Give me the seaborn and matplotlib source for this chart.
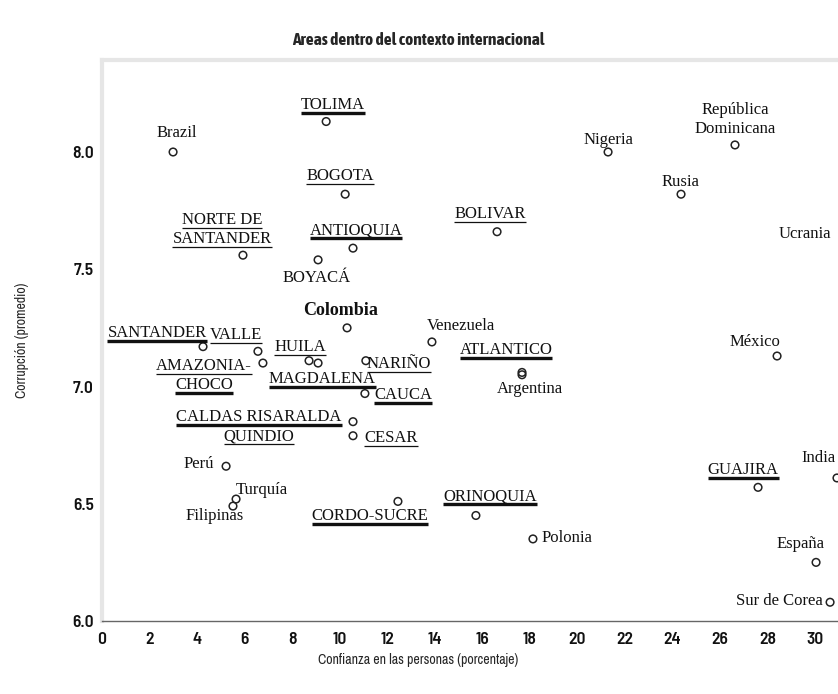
import numpy as np
import pandas as pd
import matplotlib
matplotlib.use('Agg')
import matplotlib.pyplot as plt
from matplotlib.lines import Line2D
import seaborn as sns

# ===== DATOS =====
nombres = [
    'Brazil', 'TOLIMA', 'BOGOTA', 'NORTE DE\nSANTANDER', 'ANTIOQUIA', 'BOYACÁ',
    'Colombia', 'SANTANDER', 'VALLE', 'AMAZONIA-\nCHOCO', 'HUILA', 'MAGDALENA',
    'NARIÑO', 'CAUCA', 'CALDAS RISARALDA\nQUINDIO', 'CESAR', 'Perú', 'Turquía',
    'Filipinas', 'CORDO-SUCRE', 'ORINOQUIA', 'Polonia', 'Venezuela', 'ATLANTICO',
    'Argentina', 'México', 'GUAJIRA', 'India', 'España', 'Sur de Corea',
    'Nigeria', 'República\nDominicana', 'Rusia', 'BOLIVAR', 'Ucrania',
]
confianza = [
    2.99, 9.43, 10.23, 5.93, 10.56, 9.09,
    10.31, 4.25, 6.56, 6.77, 8.71, 9.09,
    11.10, 11.06, 10.56, 10.56, 5.22, 5.64,
    5.51, 12.45, 15.73, 18.13, 13.88, 17.67,
    17.67, 28.40, 27.60, 30.92, 30.04, 30.63,
    21.29, 26.63, 24.36, 16.62, 31.17,
]
corrupcion = [
    8.00, 8.13, 7.82, 7.56, 7.59, 7.54,
    7.25, 7.17, 7.15, 7.10, 7.11, 7.10,
    7.11, 6.97, 6.85, 6.79, 6.66, 6.52,
    6.49, 6.51, 6.45, 6.35, 7.19, 7.06,
    7.05, 7.13, 6.57, 6.61, 6.25, 6.08,
    8.00, 8.03, 7.82, 7.66, 7.65,
]

# posicion de cada etiqueta respecto a su punto (pixeles)
desplazamiento = {
    'Brazil': (4, 19), 'TOLIMA': (7, 17), 'BOGOTA': (-5, 18),
    'NORTE DE\nSANTANDER': (-21, 26), 'ANTIOQUIA': (3, 18), 'BOYACÁ': (-1, -18),
    'Colombia': (-7, 17), 'SANTANDER': (-46, 14), 'VALLE': (-22, 16),
    'AMAZONIA-\nCHOCO': (-59, -12), 'HUILA': (-9, 14), 'MAGDALENA': (4, -16),
    'NARIÑO': (33, -3), 'CAUCA': (38, -1), 'CALDAS RISARALDA\nQUINDIO': (-94, -5),
    'CESAR': (38, -2), 'Perú': (-27, 2), 'Turquía': (26, 9),
    'Filipinas': (-18, -10), 'CORDO-SUCRE': (-28, -15), 'ORINOQUIA': (14, 19),
    'Polonia': (34, 1), 'Venezuela': (29, 16), 'ATLANTICO': (-16, 22),
    'Argentina': (8, -14), 'México': (-22, 14), 'GUAJIRA': (-15, 17),
    'India': (-19, 20), 'España': (-16, 18), 'Sur de Corea': (-51, 1),
    'Nigeria': (0, 12), 'República\nDominicana': (0, 25), 'Rusia': (-1, 12),
    'BOLIVAR': (-7, 18), 'Ucrania': (-38, 0),
}
# grosor del subrayado de cada linea (regiones de Colombia)
subrayado = {
    'TOLIMA': [2.4], 'BOGOTA': [0.9], 'NORTE DE\nSANTANDER': [0.9, 0.9],
    'ANTIOQUIA': [2.4], 'SANTANDER': [2.4], 'VALLE': [0.9],
    'AMAZONIA-\nCHOCO': [0.9, 2.4], 'HUILA': [0.9], 'MAGDALENA': [2.4],
    'NARIÑO': [0.9], 'CAUCA': [2.4], 'CALDAS RISARALDA\nQUINDIO': [2.4, 0.9],
    'CESAR': [0.9], 'CORDO-SUCRE': [2.4], 'ORINOQUIA': [2.4],
    'ATLANTICO': [2.4], 'GUAJIRA': [2.4], 'BOLIVAR': [0.9],
}

df = pd.DataFrame({'nombre': nombres, 'confianza': confianza, 'corrupcion': corrupcion})

sns.set_style('white')
plt.rcParams['font.family'] = ['Liberation Serif', 'DejaVu Serif']
narrow = ['Archivo Narrow', 'DejaVu Sans']
ticks_font = ['Barlow Semi Condensed', 'DejaVu Sans']

fig = plt.figure(figsize=(8.38, 6.94), dpi=100)
W, H = 838, 694
ax = fig.add_axes([102 / W, 73 / H, 35 * 23.77 / W, 561 / H])

sns.scatterplot(data=df, x='confianza', y='corrupcion', ax=ax, marker='o',
                s=30, facecolor='none', edgecolor='#222222', linewidth=1.1,
                legend=False, zorder=3)

ax.set_xlim(0, 35)
ax.set_ylim(6.0, 6.0 + 561 / 234.5)
ax.set_xticks(np.arange(0, 31, 2))
ax.set_yticks([6.0, 6.5, 7.0, 7.5, 8.0])
ax.set_yticklabels(['6.0', '6.5', '7.0', '7.5', '8.0'])
ax.set_xlabel('')
ax.set_ylabel('')

for s in ['left', 'top']:
    ax.spines[s].set_color('#e6e6e6')
    ax.spines[s].set_linewidth(3)
ax.spines['bottom'].set_color('#666666')
ax.spines['bottom'].set_linewidth(1.0)
ax.spines['right'].set_visible(False)

ax.tick_params(axis='x', direction='inout', length=4, width=0.8, color='#888888',
               pad=6, labelsize=12.5)
ax.tick_params(axis='y', direction='out', length=2, width=0.8, color='#888888',
               pad=4, labelsize=12.5)
for lab in ax.get_xticklabels() + ax.get_yticklabels():
    lab.set_family(ticks_font)
    lab.set_fontweight(600)
    lab.set_color('#111111')

# etiquetas
textos = []
for nom, xv, yv in zip(nombres, confianza, corrupcion):
    dx, dy = desplazamiento[nom]
    lineas = nom.split('\n')
    anchos = subrayado.get(nom, [0] * len(lineas))
    gap = 19
    n = len(lineas)
    bold = nom == 'Colombia'
    for i, lin in enumerate(lineas):
        ly = dy + (n - 1) / 2 * gap - i * gap
        t = ax.annotate(lin, (xv, yv), xytext=(dx, ly), textcoords='offset pixels',
                        ha='center', va='center', fontsize=13 if bold else 12,
                        fontweight='bold' if bold else 'normal', color='#111111',
                        zorder=4)
        textos.append((t, anchos[i]))

fig.canvas.draw()
inv = fig.transFigure.inverted()
for t, lw in textos:
    if lw <= 0:
        continue
    bb = t.get_window_extent()
    (x0, y0), (x1, _) = inv.transform([[bb.x0, bb.y0], [bb.x1, bb.y0]])
    fig.add_artist(Line2D([x0, x1], [y0, y0], color='#111111', lw=lw,
                          solid_capstyle='butt', zorder=5))

fig.text(418 / W, 1 - 40 / H, 'Areas dentro del contexto internacional',
         ha='center', va='center', fontsize=12.5, fontweight='bold',
         family=['Asap Condensed', 'DejaVu Sans'])
fig.text(418 / W, 1 - 660 / H, 'Confianza en las personas (porcentaje)',
         ha='center', va='center', fontsize=10, family=narrow)
fig.text(22 / W, 1 - 340 / H, 'Corrupción (promedio)', rotation=90,
         ha='center', va='center', fontsize=10, family=narrow)

plt.savefig('out.png', dpi=100)
plt.close()
